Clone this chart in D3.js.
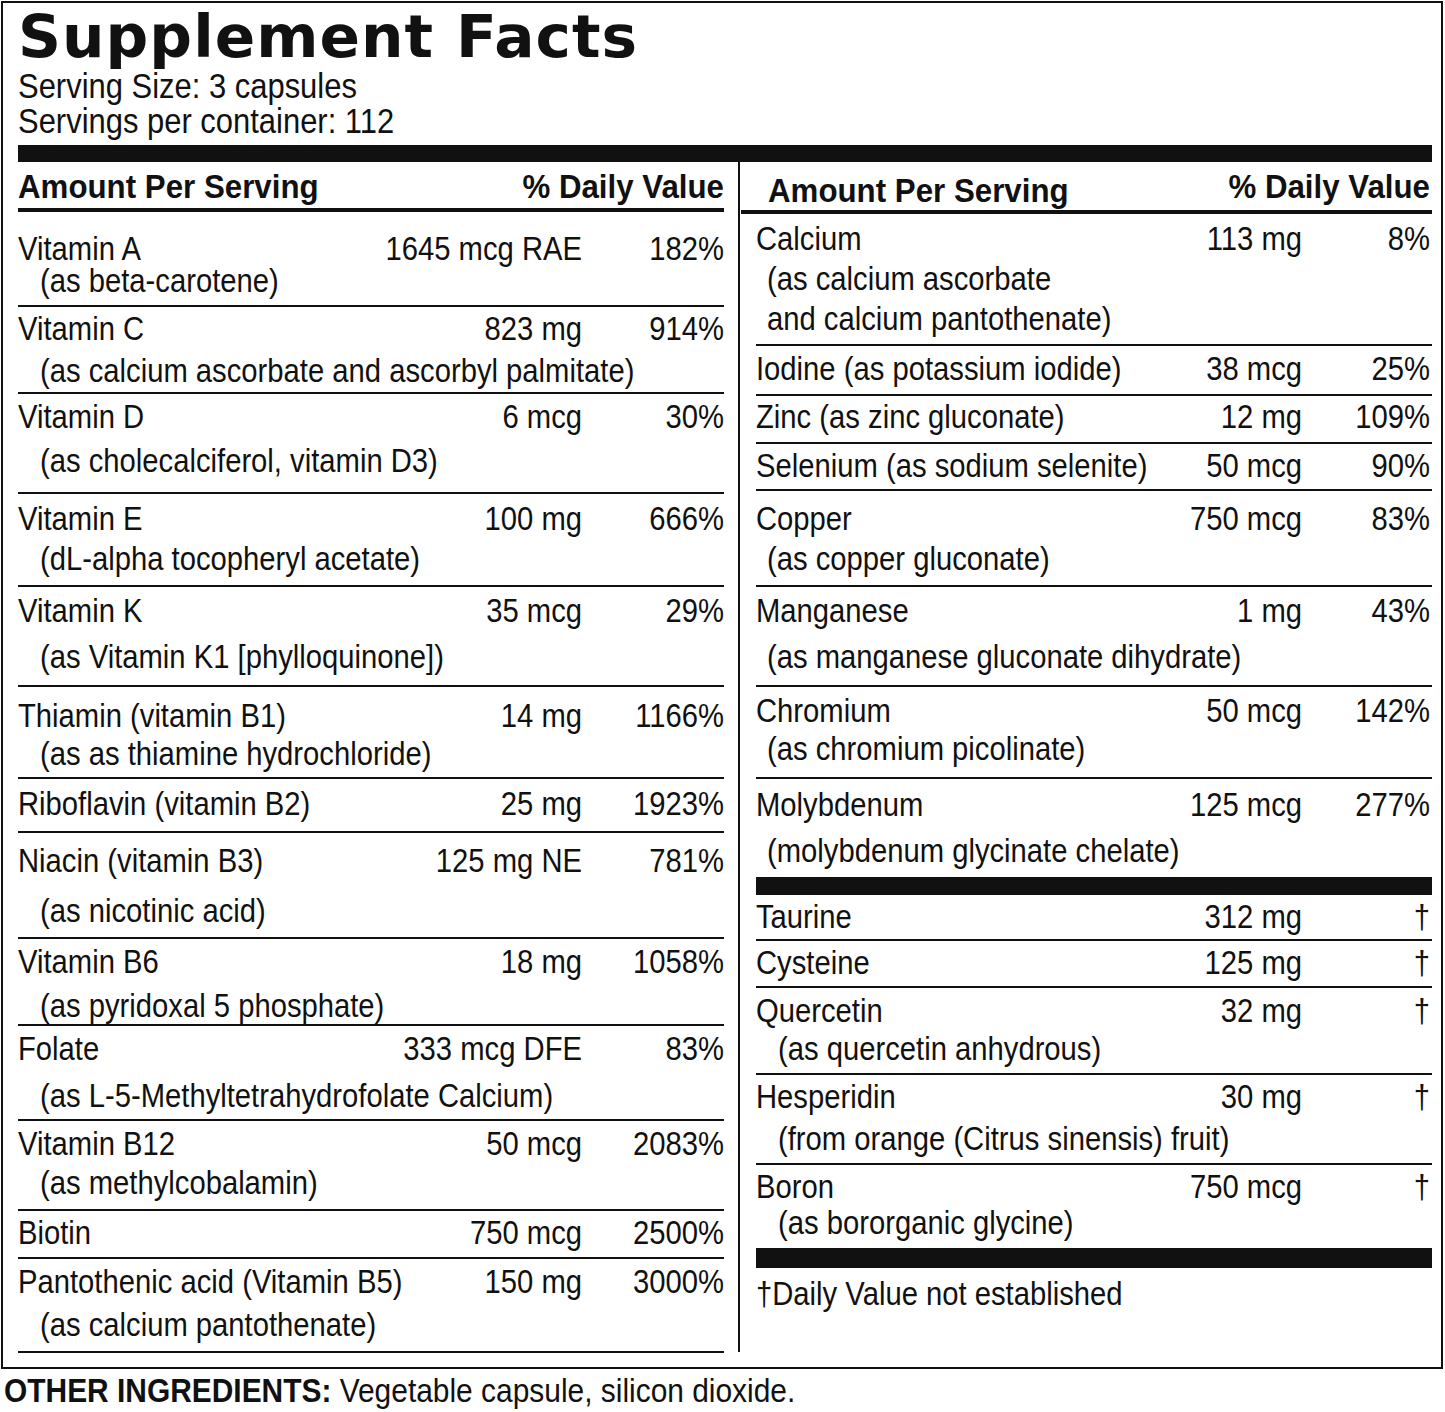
<!DOCTYPE html><html><head><meta charset="utf-8">
<script src="https://cdn.jsdelivr.net/npm/d3@7/dist/d3.min.js"></script>
<style>body{margin:0;background:#fff}text{font-family:"Liberation Sans Narrow","Arial Narrow","Liberation Sans",sans-serif;fill:#111}</style>
</head><body><svg id="c" width="1445" height="1412"></svg>
<script>
const leftNames=["Vitamin A","Vitamin C","Vitamin D","Vitamin E","Vitamin K","Thiamin (vitamin B1)","Riboflavin (vitamin B2)","Niacin (vitamin B3)","Vitamin B6","Folate","Vitamin B12","Biotin","Pantothenic acid (Vitamin B5)"];
const leftSubs=["(as beta-carotene)","(as calcium ascorbate and ascorbyl palmitate)","(as cholecalciferol, vitamin D3)","(dL-alpha tocopheryl acetate)","(as Vitamin K1 [phylloquinone])","(as as thiamine hydrochloride)","","(as nicotinic acid)","(as pyridoxal 5 phosphate)","(as L-5-Methyltetrahydrofolate Calcium)","(as methylcobalamin)","","(as calcium pantothenate)"];
const leftAmounts=["1645 mcg RAE","823 mg","6 mcg","100 mg","35 mcg","14 mg","25 mg","125 mg NE","18 mg","333 mcg DFE","50 mcg","750 mcg","150 mg"];
const leftDV=["182%","914%","30%","666%","29%","1166%","1923%","781%","1058%","83%","2083%","2500%","3000%"];
const rightNames=["Calcium","Iodine (as potassium iodide)","Zinc (as zinc gluconate)","Selenium (as sodium selenite)","Copper","Manganese","Chromium","Molybdenum"];
const rightSubs=[["(as calcium ascorbate"," and calcium pantothenate)"],[],[],[],["(as copper gluconate)"],["(as manganese gluconate dihydrate)"],["(as chromium picolinate)"],["(molybdenum glycinate chelate)"]];
const rightAmounts=["113 mg","38 mcg","12 mg","50 mcg","750 mcg","1 mg","50 mcg","125 mcg"];
const rightDV=["8%","25%","109%","90%","83%","43%","142%","277%"];
const otherNames=["Taurine","Cysteine","Quercetin","Hesperidin","Boron"];
const otherSubs=["","","(as quercetin anhydrous)","(from orange (Citrus sinensis) fruit)","(as bororganic glycine)"];
const otherAmounts=["312 mg","125 mg","32 mg","30 mg","750 mcg"];

// layout (row baselines / separators)
const leftBase=[260,340,428,530,622,727,815,872,973,1060,1155,1244,1293];
const leftSubBase=[292,382,472,570,668,765,0,922,1017,1107,1194,0,1336];
const leftLines=[306,393,493,586,686,778,832,938,1025,1120,1210,1258,1352];
const rightBase=[250,380,428,477,530,622,722,816];
const rightSubBase=[[290,330],[],[],[],[570],[668],[760],[862]];
const rightLines=[345,395,443,490,586,686,778];
const otherBase=[928,974,1022,1108,1198];
const otherSubBase=[0,0,1060,1150,1234];
const otherLines=[940,987,1074,1164];

const svg=d3.select("#c");
const fs=34;
function t(x,y,s,o={}){const sx=o.sx||(o.bold?0.92:0.86);
 const e=svg.append("text").attr("transform",`translate(${x},${y}) scale(${sx},1)`).text(s).style("font-size",(o.size||fs)+"px");
 if(o.anchor)e.attr("text-anchor",o.anchor);if(o.bold)e.style("font-weight","bold");if(o.family)e.style("font-family",o.family);return e;}
function r(x,y,w,h){svg.append("rect").attr("x",x).attr("y",y).attr("width",w).attr("height",h).attr("fill","#111");}
function hl(x1,x2,y,w=2){svg.append("line").attr("x1",x1).attr("x2",x2).attr("y1",y).attr("y2",y).attr("stroke","#111").attr("stroke-width",w);}

svg.append("rect").attr("x",2).attr("y",2).attr("width",1440).attr("height",1366).attr("fill","none").attr("stroke","#111").attr("stroke-width",2);
t(18,57,"Supplement Facts",{size:58,bold:true,sx:1.03,family:"'DejaVu Sans',sans-serif"}).style("letter-spacing","1px");
t(18,98,"Serving Size: 3 capsules",{size:36});
t(18,133,"Servings per container: 112",{size:36});
r(18,145,1414,17);
svg.append("line").attr("x1",739).attr("x2",739).attr("y1",145).attr("y2",1352).attr("stroke","#111").attr("stroke-width",2);
t(18,198,"Amount Per Serving",{bold:true});t(724,198,"% Daily Value",{bold:true,anchor:"end"});
hl(18,724,210,4);
t(768,202,"Amount Per Serving",{bold:true});t(1430,198,"% Daily Value",{bold:true,anchor:"end"});
hl(741,1432,212,4);

leftNames.forEach((n,i)=>{t(18,leftBase[i],n);t(582,leftBase[i],leftAmounts[i],{anchor:"end"});t(724,leftBase[i],leftDV[i],{anchor:"end"});
 if(leftSubs[i])t(40,leftSubBase[i],leftSubs[i]);hl(18,724,leftLines[i]);});
rightNames.forEach((n,i)=>{t(756,rightBase[i],n);t(1302,rightBase[i],rightAmounts[i],{anchor:"end"});t(1430,rightBase[i],rightDV[i],{anchor:"end"});
 rightSubs[i].forEach((s,j)=>t(767,rightSubBase[i][j],s));});
rightLines.forEach(y=>hl(756,1432,y));
r(756,877,676,18);
otherNames.forEach((n,i)=>{t(756,otherBase[i],n);t(1302,otherBase[i],otherAmounts[i],{anchor:"end"});t(1430,otherBase[i],"†",{anchor:"end"});
 if(otherSubs[i])t(778,otherSubBase[i],otherSubs[i]);});
otherLines.forEach(y=>hl(756,1432,y));
r(756,1248,676,20);
t(756,1305,"†Daily Value not established");
const oi=t(4,1402,"",{size:34,sx:0.88});
oi.append("tspan").style("font-weight","bold").text("OTHER INGREDIENTS:");
oi.append("tspan").text(" Vegetable capsule, silicon dioxide.");
</script></body></html>
